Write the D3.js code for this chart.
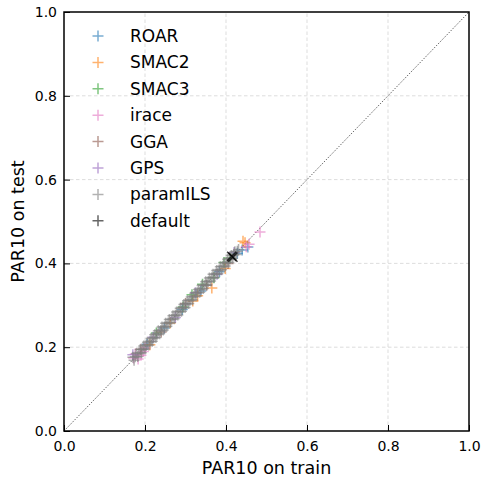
<!DOCTYPE html>
<html>
<head>
<meta charset="utf-8">
<script src="https://cdn.jsdelivr.net/npm/d3@7"></script>
<style>
  body { margin: 0; background: #fff; }
  svg { font-family: "DejaVu Sans", sans-serif; }
</style>
</head>
<body>
<div id="chart"></div>
<script>
const width = 483;
const height = 480;
const margin = { top: 12, right: 14, bottom: 49, left: 64 };

// [train, test] pairs per configurator
const roar = [[0.205, 0.207], [0.248, 0.246], [0.292, 0.290], [0.338, 0.334], [0.384, 0.380], [0.428, 0.424], [0.440, 0.432], [0.454, 0.439]];
const smac2 = [[0.212, 0.206], [0.262, 0.258], [0.318, 0.310], [0.330, 0.323], [0.365, 0.341], [0.398, 0.388], [0.442, 0.453], [0.447, 0.449]];
const smac3 = [[0.228, 0.234], [0.294, 0.296], [0.316, 0.325], [0.342, 0.350], [0.370, 0.366], [0.395, 0.402], [0.410, 0.413]];
const irace = [[0.172, 0.174], [0.176, 0.184], [0.183, 0.172], [0.190, 0.181], [0.196, 0.190], [0.200, 0.198], [0.450, 0.440], [0.457, 0.446], [0.484, 0.475]];
const gga = [[0.190, 0.195], [0.240, 0.236], [0.300, 0.304], [0.352, 0.348], [0.405, 0.400]];
const gps = [[0.170, 0.182], [0.220, 0.224], [0.275, 0.271], [0.325, 0.330], [0.378, 0.374], [0.420, 0.426]];
const paramils = [
  [0.170, 0.176], [0.173, 0.169], [0.176, 0.177], [0.179, 0.185], [0.182, 0.178], [0.185, 0.186],
  [0.188, 0.194], [0.191, 0.187], [0.194, 0.195], [0.197, 0.203], [0.200, 0.196], [0.203, 0.204],
  [0.206, 0.212], [0.209, 0.205], [0.212, 0.213], [0.215, 0.221], [0.218, 0.214], [0.221, 0.222],
  [0.224, 0.230], [0.227, 0.223], [0.230, 0.231], [0.233, 0.239], [0.236, 0.232], [0.239, 0.240],
  [0.242, 0.248], [0.245, 0.241], [0.248, 0.249], [0.251, 0.257], [0.254, 0.250], [0.257, 0.258],
  [0.260, 0.266], [0.263, 0.259], [0.266, 0.267], [0.269, 0.275], [0.272, 0.268], [0.275, 0.276],
  [0.278, 0.284], [0.281, 0.277], [0.284, 0.285], [0.287, 0.293], [0.290, 0.286], [0.293, 0.294],
  [0.296, 0.302], [0.299, 0.295], [0.302, 0.303], [0.305, 0.311], [0.308, 0.304], [0.311, 0.312],
  [0.314, 0.320], [0.317, 0.313], [0.320, 0.321], [0.323, 0.329], [0.326, 0.322], [0.329, 0.330],
  [0.332, 0.338], [0.335, 0.331], [0.338, 0.339], [0.341, 0.347], [0.344, 0.340], [0.347, 0.348],
  [0.350, 0.356], [0.353, 0.349], [0.356, 0.357], [0.359, 0.365], [0.362, 0.358], [0.365, 0.366],
  [0.368, 0.374], [0.371, 0.367], [0.374, 0.375], [0.377, 0.383], [0.380, 0.376], [0.383, 0.384],
  [0.386, 0.392], [0.389, 0.385], [0.392, 0.393], [0.395, 0.401], [0.398, 0.394], [0.401, 0.402],
  [0.404, 0.410], [0.407, 0.403], [0.410, 0.411], [0.413, 0.419], [0.416, 0.412], [0.419, 0.420],
  [0.422, 0.428], [0.425, 0.421], [0.428, 0.429], [0.431, 0.433]
];
const defaults = [[0.414, 0.417], [0.417, 0.415]];

const names = ["ROAR", "SMAC2", "SMAC3", "irace", "GGA", "GPS", "paramILS", "default"];
const colors = ["#1f77b4", "#ff7f0e", "#2ca02c", "#e377c2", "#8c564b", "#9467bd", "#7f7f7f", "#000000"];
const seriesData = [roar, smac2, smac3, irace, gga, gps, paramils, defaults];
const ticks = [0.0, 0.2, 0.4, 0.6, 0.8, 1.0];

const svg = d3.select("#chart")
    .append("svg")
    .attr("width", width)
    .attr("height", height);

const x = d3.scaleLinear().domain([0, 1]).range([margin.left, width - margin.right]);
const y = d3.scaleLinear().domain([0, 1]).range([height - margin.bottom, margin.top]);

// grid
const grid = svg.append("g");
grid.selectAll(".gx")
    .data(ticks.slice(1, -1))
    .join("line")
    .attr("x1", d => x(d)).attr("x2", d => x(d))
    .attr("y1", y(0)).attr("y2", y(1))
    .attr("stroke", "#d9d9d9").attr("stroke-width", 0.9).attr("stroke-dasharray", "3.5,2.5");
grid.selectAll(".gy")
    .data(ticks.slice(1, -1))
    .join("line")
    .attr("y1", d => y(d)).attr("y2", d => y(d))
    .attr("x1", x(0)).attr("x2", x(1))
    .attr("stroke", "#d9d9d9").attr("stroke-width", 0.9).attr("stroke-dasharray", "3.5,2.5");

// diagonal
svg.append("line")
    .attr("x1", x(0)).attr("y1", y(0))
    .attr("x2", x(1)).attr("y2", y(1))
    .attr("stroke", "#000").attr("stroke-width", 0.8).attr("stroke-dasharray", "1,1.6");

function plusPath(s) {
    return `M${-s},0H${s}M0,${-s}V${s}`;
}

// points
seriesData.forEach((pts, i) => {
    const isDefault = names[i] === "default";
    svg.append("g")
        .selectAll("path")
        .data(pts)
        .join("path")
        .attr("d", plusPath(isDefault ? 6.5 : 5.5))
        .attr("transform", d => `translate(${x(d[0])},${y(d[1])}) rotate(${isDefault ? 45 : 0})`)
        .attr("fill", "none")
        .attr("stroke", colors[i])
        .attr("stroke-opacity", isDefault ? 0.75 : 0.6)
        .attr("stroke-width", 1.5);
});

// axes
const xAxis = svg.append("g")
    .attr("transform", `translate(0,${y(0)})`)
    .call(d3.axisBottom(x).tickValues(ticks).tickFormat(d3.format(".1f")).tickSizeInner(-6).tickSizeOuter(0).tickPadding(10));
const yAxis = svg.append("g")
    .attr("transform", `translate(${x(0)},0)`)
    .call(d3.axisLeft(y).tickValues(ticks).tickFormat(d3.format(".1f")).tickSizeInner(-6).tickSizeOuter(0).tickPadding(7));
[xAxis, yAxis].forEach(a => {
    a.select(".domain").remove();
    a.selectAll("text").attr("font-size", 14).attr("fill", "#000").attr("font-family", "DejaVu Sans");
    a.selectAll(".tick line").attr("stroke", "#000").attr("stroke-width", 1);
});

// frame
svg.append("rect")
    .attr("x", x(0)).attr("y", y(1))
    .attr("width", x(1) - x(0)).attr("height", y(0) - y(1))
    .attr("fill", "none").attr("stroke", "#000").attr("stroke-width", 1.5);

// axis labels
svg.append("text")
    .attr("x", (x(0) + x(1)) / 2).attr("y", 474)
    .attr("text-anchor", "middle").attr("font-size", 17.5)
    .text("PAR10 on train");
svg.append("text")
    .attr("transform", `translate(24,${(y(0) + y(1)) / 2}) rotate(-90)`)
    .attr("text-anchor", "middle").attr("font-size", 17.5)
    .text("PAR10 on test");

// legend
const legend = svg.append("g");
names.forEach((n, i) => {
    const cy = 36 + i * 26.4;
    legend.append("path")
        .attr("d", plusPath(5.5))
        .attr("transform", `translate(98,${cy})`)
        .attr("fill", "none")
        .attr("stroke", colors[i])
        .attr("stroke-opacity", 0.6)
        .attr("stroke-width", 1.5);
    legend.append("text")
        .attr("x", 130).attr("y", cy + 6)
        .attr("font-size", 17)
        .text(n);
});
</script>
</body>
</html>
